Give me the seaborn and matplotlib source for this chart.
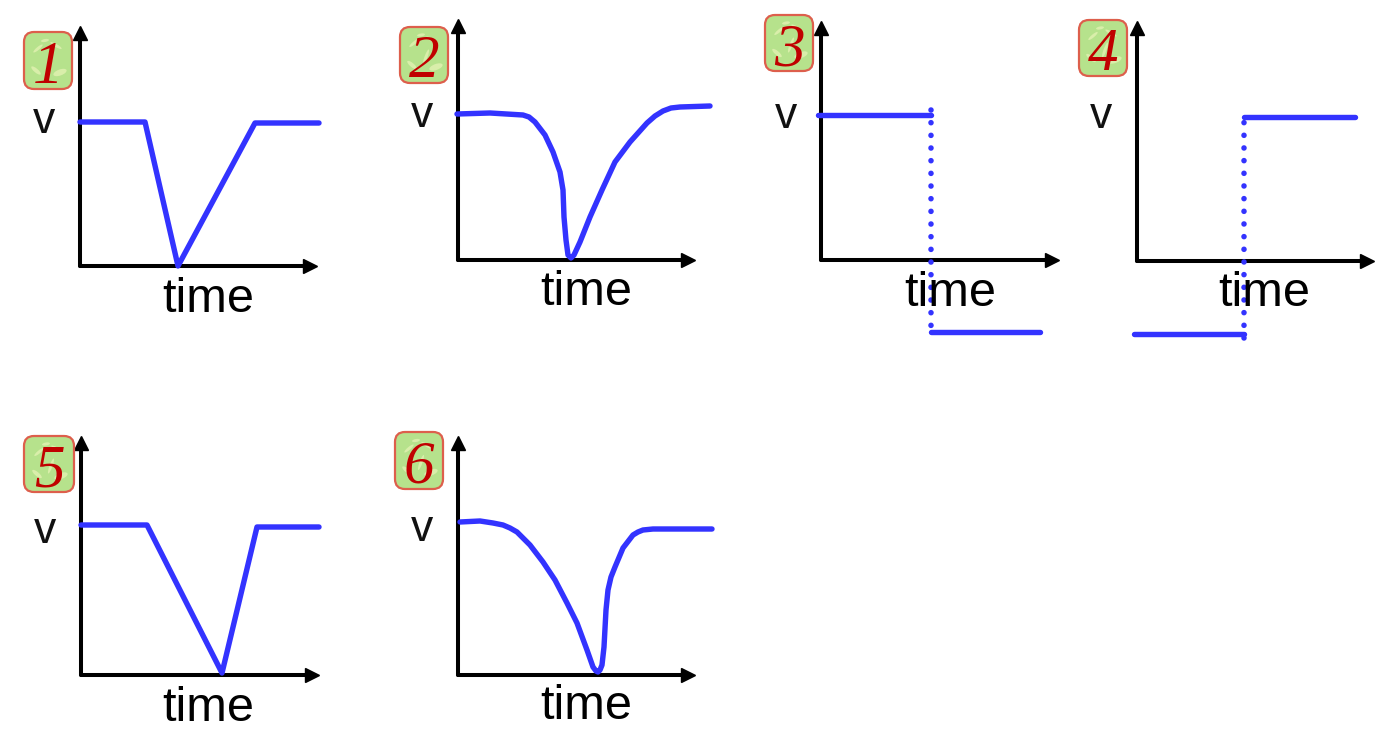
import matplotlib
matplotlib.use('Agg')
import matplotlib.pyplot as plt
import pandas as pd
import seaborn as sns
from matplotlib.patches import Ellipse, FancyBboxPatch
from matplotlib.transforms import IdentityTransform

W, H = 1394, 743
BLUE = '#3333ff'

# curves, x = time and y = voltage, both in picture pixels from each origin
t1 = [0, 65, 98, 175, 239]
v1 = [144, 144, 0, 143, 143]

t2 = [-1, 32, 65, 71, 77, 87, 95, 102, 105, 106, 108, 110, 113, 116, 122, 132, 144, 157, 172, 189, 197, 205, 213, 222, 252]
v2 = [146, 147, 145, 143, 138, 125, 108, 88, 70, 43, 20, 5, 2, 5, 18, 43, 70, 98, 118, 137, 144, 149, 152, 153, 154]

t3_a = [-3, 110]
v3_a = [145, 145]
t3_drop = [110, 110]
v3_drop = [150, -76]
t3_b = [110, 219]
v3_b = [-72, -72]

t4_a = [-3, 107]
v4_a = [-73, -73]
t4_rise = [107, 107]
v4_rise = [-77, 148]
t4_b = [107, 218]
v4_b = [144, 144]

t5 = [0, 66, 141, 176, 238]
v5 = [150, 150, 2, 148, 148]

t6 = [2, 22, 35, 45, 52, 59, 72, 85, 97, 109, 119, 129, 135, 138, 140, 142, 144, 146, 148, 150, 153, 157, 165, 175, 180, 185, 195, 209, 254]
v6 = [153, 154, 152, 150, 147, 143, 130, 113, 95, 72, 52, 25, 8, 4, 3, 5, 10, 28, 65, 85, 98, 108, 127, 140, 143, 145, 146, 146, 146]

# origin x, origin y, x arrow tip, y arrow tip, time label x, baseline y, v label x, baseline y
panels = [
    (80, 266, 318, 25, 208, 312, 44, 133),
    (458, 260, 696, 18, 586, 305, 422, 127),
    (821, 260, 1060, 20, 950, 306, 786, 128),
    (1137, 261, 1375, 20, 1264, 306, 1101, 128),
    (81, 675, 320, 435, 208, 721, 45, 543),
    (458, 675, 696, 435, 586, 719, 422, 541),
]
curves = [
    [(t1, v1, 'solid')],
    [(t2, v2, 'solid')],
    [(t3_a, v3_a, 'solid'), (t3_drop, v3_drop, 'dotted'), (t3_b, v3_b, 'solid')],
    [(t4_a, v4_a, 'solid'), (t4_rise, v4_rise, 'dotted'), (t4_b, v4_b, 'solid')],
    [(t5, v5, 'solid')],
    [(t6, v6, 'solid')],
]
# badge left, top, right, bottom
badges = [
    ('1', 23, 31, 73, 90),
    ('2', 399, 26, 449, 84),
    ('3', 764, 14, 814, 72),
    ('4', 1078, 19, 1128, 77),
    ('5', 23, 435, 75, 493),
    ('6', 394, 431, 444, 490),
]

sns.set_style('white')
plt.rcParams['font.family'] = ['Liberation Sans', 'DejaVu Sans']

fig = plt.figure(figsize=(W / 100, H / 100), dpi=100)
px = IdentityTransform()

for (x0, y0, xtip, ytip, tx, ty, vx, vy), parts in zip(panels, curves):
    w = xtip - x0 - 8
    h = y0 - ytip - 8
    ax = fig.add_axes([x0 / W, 1 - y0 / H, w / W, h / H])
    ax.patch.set_alpha(0)
    for t, v, kind in parts:
        df = pd.DataFrame({'time': t, 'v': v})
        if kind == 'dotted':
            sns.lineplot(data=df, x='time', y='v', ax=ax, sort=False, estimator=None,
                         color=BLUE, linewidth=4.0, zorder=4)
            ax.lines[-1].set_linestyle((0, (0.01, 2.27)))
            ax.lines[-1].set_dash_capstyle('round')
        else:
            sns.lineplot(data=df, x='time', y='v', ax=ax, sort=False, estimator=None,
                         color=BLUE, linewidth=3.9, zorder=4)
            ax.lines[-1].set_solid_joinstyle('round')
        ax.lines[-1].set_clip_on(False)
    ax.set_xlim(0, w)
    ax.set_ylim(0, h)
    ax.set_xticks([])
    ax.set_yticks([])
    ax.set_xlabel('')
    ax.set_ylabel('')
    sns.despine(ax=ax)
    for side in ['left', 'bottom']:
        ax.spines[side].set_linewidth(2.9)
        ax.spines[side].set_color('black')
        ax.spines[side].set_capstyle('round')
    ax.plot(1, 0, '>', color='black', ms=10, transform=ax.transAxes, clip_on=False, zorder=3)
    ax.plot(0, 1, '^', color='black', ms=10, transform=ax.transAxes, clip_on=False, zorder=3)
    fig.text(tx, H - ty, 'time', transform=px, fontsize=35, ha='center', va='baseline', color='black')
    fig.text(vx, H - vy, 'v', transform=px, fontsize=32, ha='center', va='baseline', color='#111111')

for label, left, top, right, bottom in badges:
    fig.add_artist(FancyBboxPatch((left + 1, H - bottom + 1), right - left - 2, bottom - top - 2,
                                  boxstyle='round,pad=0,rounding_size=10', transform=px,
                                  facecolor='#b6e28c', edgecolor='#dd5f4c', linewidth=1.6, zorder=5))
    cx, cy = (left + right) / 2, H - (top + bottom) / 2
    # pale leaf pattern behind the digit
    for dx, dy, ew, eh, ang in [(-10, 12, 12, 3, 40), (8, 15, 13, 3, -30), (12, -12, 14, 6, 20),
                                (-12, -10, 12, 4, -40), (2, -2, 16, 3, 70), (-3, 20, 8, 3, 10)]:
        fig.add_artist(Ellipse((cx + dx, cy + dy), ew, eh, angle=ang, transform=px,
                               facecolor='#d9eeaa', edgecolor='none', zorder=6))
    fig.text(cx, cy - 1, label, transform=px, fontsize=44, ha='center', va='center_baseline',
             color='#c00000', family=['Liberation Serif', 'DejaVu Serif'], style='italic', zorder=7)

fig.savefig('out.png', dpi=100, facecolor='white')
